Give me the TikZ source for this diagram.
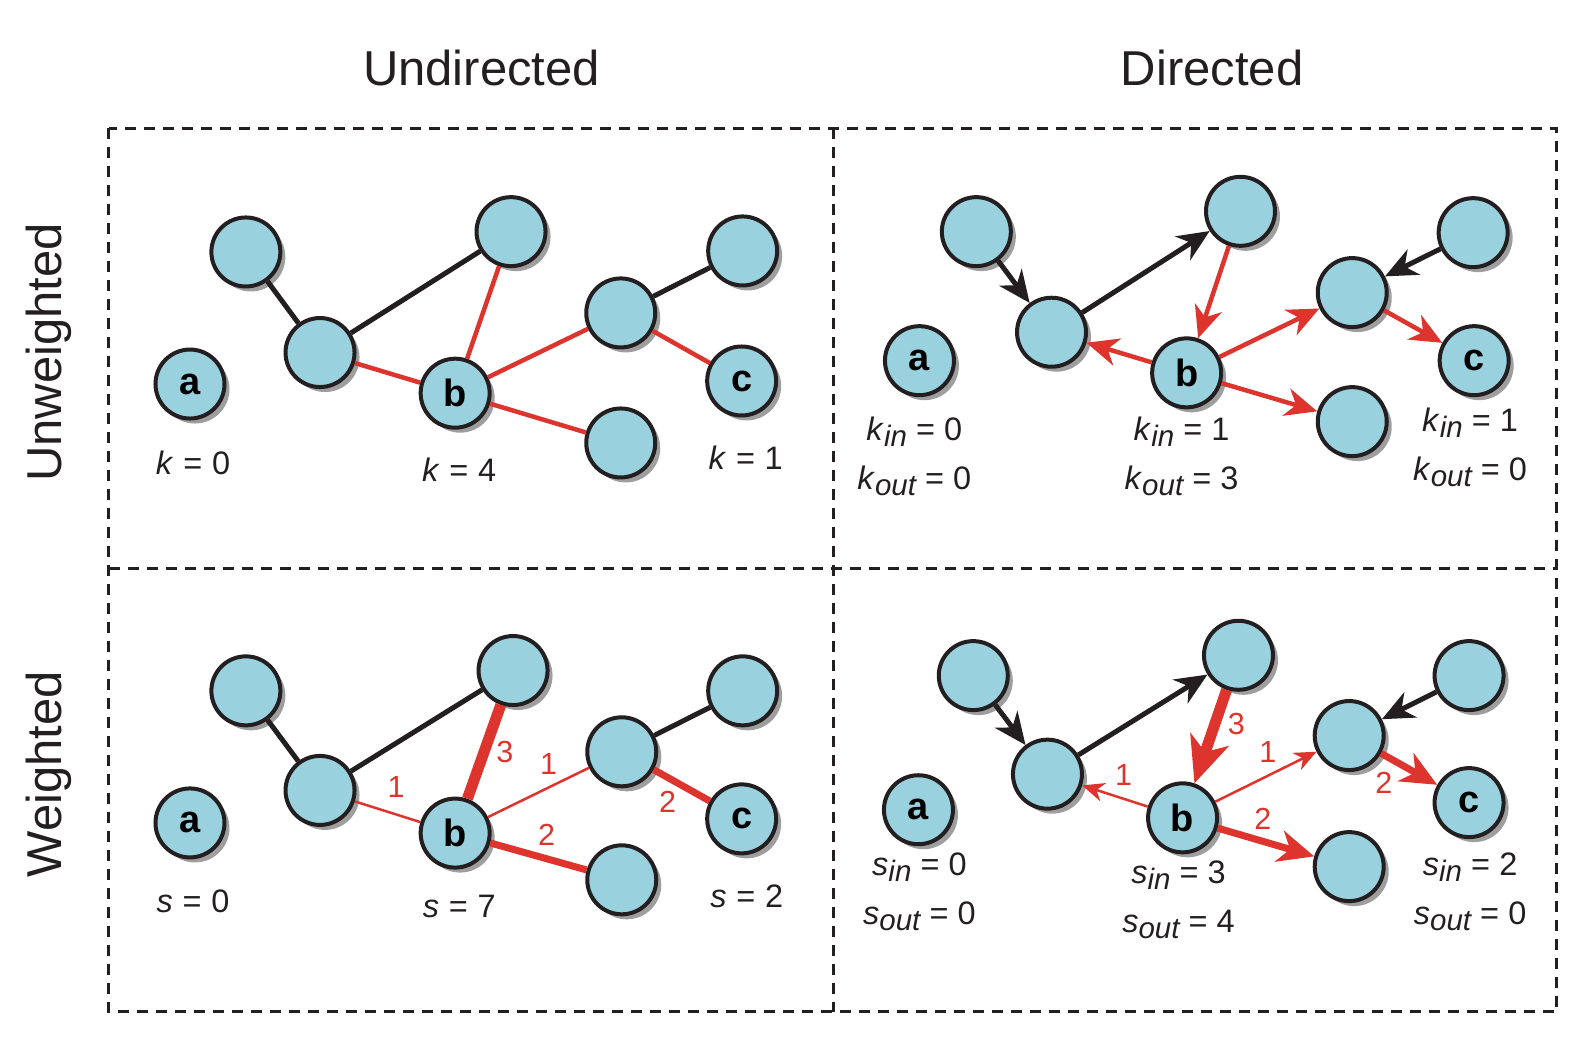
\documentclass[tikz,border=0pt]{standalone}
\usepackage{fontspec}
\setmainfont{Liberation Sans}
\usepackage{tikz}
\usetikzlibrary{shapes,arrows.meta,shadows}
\definecolor{nodeblue}{RGB}{153,209,222}
\definecolor{edgered}{RGB}{221,53,45}
\definecolor{ink}{RGB}{35,31,32}
\newcommand{\msub}[3]{\textit{#1}\raisebox{-0.35ex}{\fontsize{29.5}{29.5}\selectfont\itshape #2}\hspace{0.28em}=\hspace{0.28em}#3}
\newcommand{\mplain}[2]{\textit{#1}\hspace{0.3em}=\hspace{0.3em}#2}
\tikzset{
  vertex/.style={circle, draw=ink, line width=4pt, fill=nodeblue,
    minimum size=69pt, inner sep=0pt, font=\fontsize{38}{38}\selectfont\bfseries,
    drop shadow={shadow xshift=5pt, shadow yshift=-5pt, fill=black!38, opacity=1}},
  heading/.style={font=\fontsize{49}{49}\selectfont, text=ink},
  measure/.style={font=\fontsize{32.5}{49}\selectfont, text=ink, align=center},
  weight/.style={font=\fontsize{30.5}{30.5}\selectfont, text=edgered},
  plain/.style={draw=ink, line width=5pt},
  hot/.style={draw=edgered, line width=4.5pt},
  wone/.style={draw=edgered, line width=2.5pt},
  wtwo/.style={draw=edgered, line width=7pt},
  wthree/.style={draw=edgered, line width=11pt},
  tip/.style={-{Stealth[length=32pt, width=28pt, inset=10pt]}},
  tipone/.style={-{Stealth[length=22pt, width=19pt, inset=7pt]}},
  tiptwo/.style={-{Stealth[length=36pt, width=32pt, inset=11pt]}},
  tipthree/.style={-{Stealth[length=46pt, width=40pt, inset=13pt]}},
  frame/.style={draw=ink, line width=3pt, dash pattern=on 11pt off 8pt}
}

\begin{document}
\begin{tikzpicture}[x=1.016pt, y=-1.016pt]
  \node[heading] (undir) at (474,67) {Undirected};
  \node[heading] (dir) at (1193,67) {Directed};
  \node[heading, rotate=90] (unweighted) at (48,347) {Unweighted};
  \node[heading, rotate=90] (weighted) at (48,762) {Weighted};
  \draw[frame] (107,126) rectangle (1532,996);
  \draw[frame] (820,126) -- (820,996);
  \draw[frame] (107,560) -- (1532,560);

  % undirected, unweighted
  \node[vertex] (ua) at (187,378) {a};
  \node[vertex] (u1) at (242,248) {};
  \node[vertex] (u2) at (315,347) {};
  \node[vertex] (u3) at (503,228) {};
  \node[vertex] (ub) at (448,387) {b};
  \node[vertex] (u4) at (611,308) {};
  \node[vertex] (u5) at (611,436) {};
  \node[vertex] (u6) at (731,247) {};
  \node[vertex] (uc) at (730,375) {c};
    \draw[plain] (u1) -- (u2);
    \draw[plain] (u2) -- (u3);
    \draw[plain] (u4) -- (u6);
    \draw[hot] (u2) -- (ub);
    \draw[hot] (ub) -- (u3);
    \draw[hot] (ub) -- (u4);
    \draw[hot] (ub) -- (u5);
    \draw[hot] (u4) -- (uc);
  \node[measure] (uka) at (190,456) {\mplain{k}{0}};
  \node[measure] (ukb) at (452,462) {\mplain{k}{4}};
  \node[measure] (ukc) at (734,451) {\mplain{k}{1}};

  % undirected, weighted
  \node[vertex] (wa) at (187,810) {a};
  \node[vertex] (w1) at (242,680) {};
  \node[vertex] (w2) at (315,778) {};
  \node[vertex] (w3) at (505,660) {};
  \node[vertex] (wb) at (448,820) {b};
  \node[vertex] (w4) at (612,740) {};
  \node[vertex] (w5) at (612,866) {};
  \node[vertex] (w6) at (731,680) {};
  \node[vertex] (wc) at (730,806) {c};
    \draw[plain] (w1) -- (w2);
    \draw[plain] (w2) -- (w3);
    \draw[plain] (w4) -- (w6);
    \draw[wone] (w2) -- (wb);
    \draw[wthree] (wb) -- (w3);
    \draw[wone] (wb) -- (w4);
    \draw[wtwo] (wb) -- (w5);
    \draw[wtwo] (w4) -- (wc);
  \node[weight] (wl1) at (390,775) {1};
  \node[weight] (wl2) at (497,740) {3};
  \node[weight] (wl3) at (540,752) {1};
  \node[weight] (wl4) at (538,822) {2};
  \node[weight] (wl5) at (657,789) {2};
  \node[measure] (wsa) at (190,887) {\mplain{s}{0}};
  \node[measure] (wsb) at (452,892) {\mplain{s}{7}};
  \node[measure] (wsc) at (735,882) {\mplain{s}{2}};

  % directed, unweighted
  \node[vertex] (da) at (905,355) {a};
  \node[vertex] (d1) at (961,228) {};
  \node[vertex] (d2) at (1035,327) {};
  \node[vertex] (d3) at (1221,208) {};
  \node[vertex] (db) at (1168,367) {b};
  \node[vertex] (d4) at (1331,288) {};
  \node[vertex] (d5) at (1331,415) {};
  \node[vertex] (d6) at (1450,229) {};
  \node[vertex] (dc) at (1451,355) {c};
    \draw[plain, tip] (d1) -- (d2);
    \draw[plain, tip] (d2) -- (d3);
    \draw[plain, tip] (d6) -- (d4);
    \draw[hot, tip] (d3) -- (db);
    \draw[hot, tip] (db) -- (d2);
    \draw[hot, tip] (db) -- (d4);
    \draw[hot, tip] (db) -- (d5);
    \draw[hot, tip] (d4) -- (dc);
  \node[measure] (dka) at (900,449) {\msub{k}{in}{0}\\\msub{k}{out}{0}};
  \node[measure] (dkb) at (1163,449) {\msub{k}{in}{1}\\\msub{k}{out}{3}};
  \node[measure] (dkc) at (1447,440) {\msub{k}{in}{1}\\\msub{k}{out}{0}};

  % directed, weighted
  \node[vertex] (ea) at (904,797) {a};
  \node[vertex] (e1) at (958,665) {};
  \node[vertex] (e2) at (1031,762) {};
  \node[vertex] (e3) at (1219,645) {};
  \node[vertex] (eb) at (1164,805) {b};
  \node[vertex] (e4) at (1328,724) {};
  \node[vertex] (e5) at (1328,853) {};
  \node[vertex] (e6) at (1446,665) {};
  \node[vertex] (ec) at (1446,790) {c};
    \draw[plain, tip] (e1) -- (e2);
    \draw[plain, tip] (e2) -- (e3);
    \draw[plain, tip] (e6) -- (e4);
    \draw[wthree, tipthree] (e3) -- (eb);
    \draw[wone, tipone] (eb) -- (e2);
    \draw[wone, tipone] (eb) -- (e4);
    \draw[wtwo, tiptwo] (eb) -- (e5);
    \draw[wtwo, tiptwo] (e4) -- (ec);
  \node[weight] (el1) at (1217,713) {3};
  \node[weight] (el2) at (1106,763) {1};
  \node[weight] (el3) at (1248,740) {1};
  \node[weight] (el4) at (1243,806) {2};
  \node[weight] (el5) at (1362,771) {2};
  \node[measure] (esa) at (905,878) {\msub{s}{in}{0}\\\msub{s}{out}{0}};
  \node[measure] (esb) at (1160,886) {\msub{s}{in}{3}\\\msub{s}{out}{4}};
  \node[measure] (esc) at (1447,878) {\msub{s}{in}{2}\\\msub{s}{out}{0}};

  \pgfresetboundingbox
  \useasboundingbox (0,0) rectangle (1567,1035.4);
\end{tikzpicture}
\end{document}
